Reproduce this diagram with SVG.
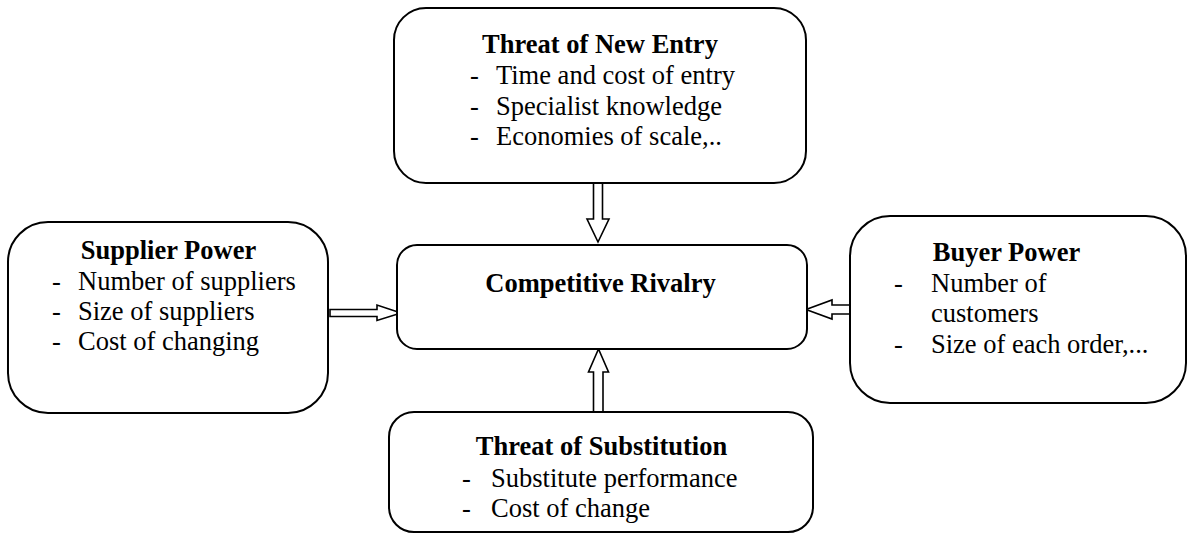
<svg xmlns="http://www.w3.org/2000/svg" width="1188" height="533" viewBox="0 0 1188 533">
<style>
.box{fill:#fff;stroke:#000;stroke-width:2}
.arr{fill:#fff;stroke:#000;stroke-width:1.6;stroke-linejoin:miter}
text{font-family:'Liberation Serif',Tinos,'Times New Roman',Times,'DejaVu Serif','Noto Serif',serif;font-size:26.5px;fill:#000}
.t{font-weight:bold;text-anchor:middle}
</style>
<defs>
<clipPath id="clipSub"><rect x="389" y="412" width="424" height="112"/></clipPath>
</defs>
<rect width="1188" height="533" fill="#fff"/>
<g id="connectors">
<polygon class="arr" points="593.5,183 602.5,183 602.5,219 609,219 598,242 587,219 593.5,219"/>
<polygon class="arr" points="593.5,412 603,412 603,372 608.5,372 598.5,349 588.5,372 593.5,372"/>
<polygon class="arr" points="330,309.5 377,309.5 377,305 401,313 377,320.5 377,316.5 330,316.5"/>
<polygon class="arr" points="850,305 832,305 832,300 806,309.5 832,319 832,314 850,314"/>
</g>
<g id="threat-new-entry">
<rect class="box" x="394" y="8" width="412" height="175" rx="32"/>
<text class="t" x="600" y="53">Threat of New Entry</text>
<text x="470" y="84">-</text><text x="496" y="84">Time and cost of entry</text>
<text x="470" y="114.5">-</text><text x="496" y="114.5">Specialist knowledge</text>
<text x="470" y="145">-</text><text x="496" y="145">Economies of scale,..</text>
</g>
<g id="competitive-rivalry">
<rect class="box" x="397" y="245" width="410" height="104" rx="20"/>
<text class="t" x="600.5" y="292">Competitive Rivalry</text>
</g>
<g id="supplier-power">
<rect class="box" x="8" y="222" width="320" height="191" rx="40"/>
<text class="t" x="168.5" y="259">Supplier Power</text>
<text x="52" y="290">-</text><text x="78" y="290">Number of suppliers</text>
<text x="52" y="320">-</text><text x="78" y="320">Size of suppliers</text>
<text x="52" y="350">-</text><text x="78" y="350">Cost of changing</text>
</g>
<g id="buyer-power">
<rect class="box" x="850" y="216" width="336" height="187" rx="40"/>
<text class="t" x="1006.5" y="261">Buyer Power</text>
<text x="894" y="292">-</text><text x="931" y="292">Number of</text>
<text x="931" y="322">customers</text>
<text x="894" y="353">-</text><text x="931" y="353">Size of each order,...</text>
</g>
<g id="threat-substitution">
<rect class="box" x="389" y="412" width="424" height="120" rx="25"/>
<g clip-path="url(#clipSub)">
<text class="t" x="601.5" y="455">Threat of Substitution</text>
<text x="462" y="487">-</text><text x="491" y="487">Substitute performance</text>
<text x="462" y="517">-</text><text x="491" y="517">Cost of change</text>
</g>
</g>
</svg>
